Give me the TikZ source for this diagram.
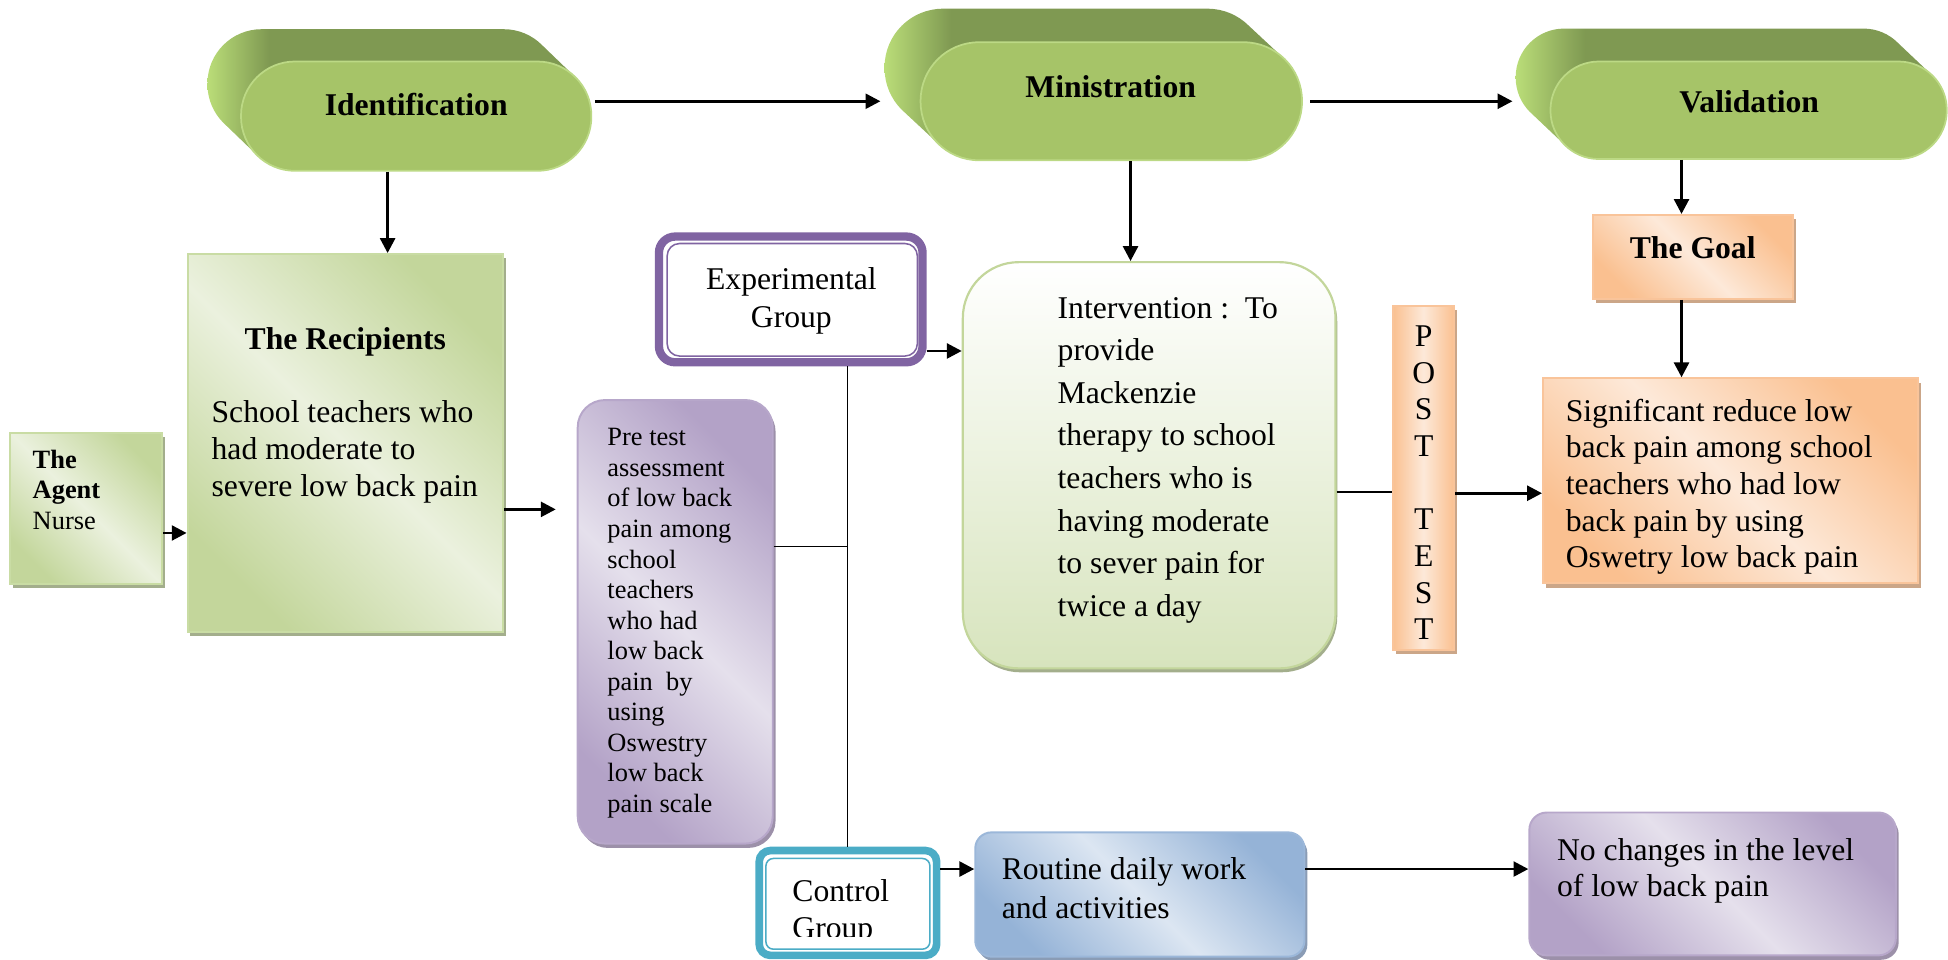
\documentclass[tikz,border=0pt]{standalone}
\usepackage{fontspec}
\setmainfont{Liberation Serif}
\usetikzlibrary{fit,arrows.meta,shadows}

\definecolor{pillL}{HTML}{BADD78}
\definecolor{pillD}{HTML}{7F9952}
\definecolor{pillF}{HTML}{A6C468}
\definecolor{pillB}{HTML}{BCD985}
\definecolor{gD}{HTML}{C3D69B}
\definecolor{gL}{HTML}{EBF1DE}
\definecolor{gB}{HTML}{C9DCA4}
\definecolor{oD}{HTML}{FAC090}
\definecolor{oL}{HTML}{FDE9D9}
\definecolor{oB}{HTML}{F9C49A}
\definecolor{pD}{HTML}{B3A2C7}
\definecolor{pL}{HTML}{E5E0EC}
\definecolor{pB}{HTML}{B7A7CA}
\definecolor{bD}{HTML}{95B3D7}
\definecolor{bL}{HTML}{DCE6F2}
\definecolor{bB}{HTML}{9BB7D9}
\definecolor{expC}{HTML}{8064A2}
\definecolor{ctlC}{HTML}{4BACC6}
\definecolor{intB}{HTML}{D7E4BD}
\definecolor{shG}{HTML}{A3AE8C}
\definecolor{shO}{HTML}{CBA688}
\definecolor{shP}{HTML}{9C90A9}
\definecolor{shB}{HTML}{8A9CB5}

\pgfdeclarehorizontalshading{pillside}{100bp}{color(0bp)=(pillL); color(25bp)=(pillL); color(33bp)=(pillD); color(100bp)=(pillD)}

\tikzset{
  fitbox/.style={inner sep=0pt},
  grad/.style n args={2}{top color=#1, bottom color=#1, middle color=#2, shading angle=-45},
  shd/.style={drop shadow={shadow xshift=1.3pt, shadow yshift=-2pt, fill=#1, opacity=1}},
  gbox/.style={fitbox, draw=gB, line width=0.9pt, grad={gD}{gL}, shd=shG},
  obox/.style={fitbox, draw=oB, line width=0.9pt, grad={oD}{oL}, shd=shO},
  pbox/.style={fitbox, draw=pB, line width=0.9pt, grad={pD}{pL}, shd=shP},
  bluebox/.style={fitbox, draw=bB, line width=0.9pt, grad={bD}{bL}, shd=shB},
  face/.style={fitbox, fill=pillF, draw=pillB, line width=0.8pt},
  txt/.style={inner sep=0pt, align=left, font={\fontsize{14.5pt}{#1}\selectfont}},
  txt/.default=17.1pt,
  ctxt/.style={inner sep=0pt, align=center, font={\fontsize{14.5pt}{#1}\selectfont}},
  ctxt/.default=17.1pt,
  stxt/.style={inner sep=0pt, align=left, font={\fontsize{12.1pt}{14pt}\selectfont}},
  ttl/.style={inner sep=0pt, font={\fontsize{14.5pt}{17pt}\selectfont\bfseries}},
  arr/.style={line width=1.3pt, -{Triangle[length=6.8pt,width=6.8pt]}},
  thinl/.style={line width=0.65pt},
}

\begin{document}
\begin{tikzpicture}[x=0.02cm, y=-0.02cm]
\useasboundingbox (0,0) rectangle (1568,772);

% ---------- 3D pills ----------
\shade[shading=pillside, rounded corners=0.87cm] foreach \i in {0,...,24}
  {({194-27*\i/24},{49.5-26*\i/24}) rectangle ({476-27*\i/24},{137.5-26*\i/24})};
\node[face, rounded corners=0.87cm, fit={(194,49.5) (476,137.5)}] (ident) {};
\node[ttl] (identT) at (335,84) {Identification};

\shade[shading=pillside, rounded corners=0.94cm] foreach \i in {0,...,24}
  {({741-29*\i/24},{34-27*\i/24}) rectangle ({1048-29*\i/24},{129-27*\i/24})};
\node[face, rounded corners=0.94cm, fit={(741,34) (1048,129)}] (minis) {};
\node[ttl] (minisT) at (894,70) {Ministration};

\shade[shading=pillside, rounded corners=0.78cm] foreach \i in {0,...,24}
  {({1248-28*\i/24},{49.5-26.5*\i/24}) rectangle ({1567-28*\i/24},{128-26.5*\i/24})};
\node[face, rounded corners=0.78cm, fit={(1248,49.5) (1567,128)}] (valid) {};
\node[ttl] (validT) at (1408,82) {Validation};

% ---------- left boxes ----------
\node[gbox, fit={(8,348.5) (130.5,470)}] (agent) {};
\node[stxt, anchor=base west] (agentT) at (26,426) {\textbf{The}\\\textbf{Agent}\\Nurse};

\node[gbox, fit={(151,204.5) (405,508.5)}] (recip) {};
\node[ttl, anchor=base] (recipT) at (278,281) {The Recipients};
\node[txt=17.1pt, anchor=base west] (recipB) at (170,400) {School teachers who\\had moderate to\\severe low back pain};

% ---------- experimental group ----------
\node[fitbox, fit={(530.4,190.4) (742.6,291.6)}, rounded corners=0.26cm, draw=expC, line width=3.8pt, fill=white] (exp) {};
\draw[expC, line width=0.7pt, rounded corners=0.2cm] (537,196) rectangle (738.4,286.6);
\node[ctxt=17.6pt, anchor=base] (expT) at (637,264) {Experimental\\Group};

% ---------- pre test ----------
\node[pbox, fit={(465,322) (622,679)}, rounded corners=0.44cm] (pre) {};
\node[stxt, anchor=base west] (preT) at (488.6,654) {Pre test\\assessment\\of low back\\pain among\\school\\teachers\\who had\\low back\\pain\ \ by\\using\\Oswestry\\low back\\pain scale};

% ---------- intervention ----------
\node[fitbox, fit={(775,211) (1075,538)}, rounded corners=0.9cm, draw=gD, line width=1pt,
      top color=white, bottom color=intB,
      drop shadow={shadow xshift=0.8pt, shadow yshift=-1.8pt, fill=shG, opacity=1}] (inter) {};
\node[txt=19.5pt, anchor=base west] (interT) at (851,496) {Intervention :\ \ To\\provide\\Mackenzie\\therapy to school\\teachers who is\\having moderate\\to sever pain for\\twice a day};

% ---------- post test ----------
\node[fitbox, fit={(1121,246) (1170.5,523)}, draw=oB, line width=0.9pt,
      left color=oD, right color=oD, middle color=oL, shd=shO] (post) {};
\node[ctxt=16.8pt, anchor=base] (postT) at (1146,515) {P\\O\\S\\T\\\mbox{}\\T\\E\\S\\T};

% ---------- goal / significant ----------
\node[obox, fit={(1282,173) (1443,240.5)}] (goal) {};
\node[ttl, anchor=base] (goalT) at (1362.5,208) {The Goal};

\node[obox, fit={(1242,304.5) (1544,469.5)}] (sig) {};
\node[txt=16.8pt, anchor=base west] (sigT) at (1260,457) {Significant reduce low\\back pain among school\\teachers who had low\\back pain by using\\Oswetry low back pain};

% ---------- control group ----------
\node[fitbox, fit={(611.1,684.6) (753.9,769)}, rounded corners=0.18cm, draw=ctlC, line width=3.5pt, fill=white] (ctl) {};
\draw[ctlC, line width=0.7pt, rounded corners=0.12cm] (616.5,691) rectangle (748.5,764);
\begin{scope}
  \clip (600,680) rectangle (760,753.5);
  \node[txt=16.8pt, anchor=base west] (ctlT) at (637.5,755.5) {Control\\Group};
\end{scope}

% ---------- routine / no changes ----------
\node[bluebox, fit={(785,670) (1050,770)}, rounded corners=0.26cm] (rout) {};
\node[txt=17.6pt, anchor=base west] (routT) at (806,739) {Routine daily work\\and activities};

\node[pbox, fit={(1231,654) (1526,769)}, rounded corners=0.28cm] (noch) {};
\node[txt=16.8pt, anchor=base west] (nochT) at (1253,722) {No changes in the level\\of low back pain};

% ---------- connectors ----------
\coordinate (xa) at (312,0);
\coordinate (xb) at (910,0);
\coordinate (xc) at (1353.5,0);
\coordinate (xd) at (682,0);
\coordinate (ya) at (0,429);
\coordinate (yb) at (0,410);
\coordinate (yc) at (0,282.5);
\coordinate (jn) at (682,440);
\coordinate (yf) at (0,396);
\coordinate (yg) at (0,397);
\coordinate (yh) at (0,699.5);

\draw[arr, shorten <=1.2pt, shorten >=18pt] (ident.east |- minis.west) -- (minis.west);
\draw[arr, shorten <=3.4pt, shorten >=17pt] (minis.east) -- (valid.west |- minis.east);
\draw[arr] (ident.south -| xa) -- (recip.north -| xa);
\draw[arr] (minis.south -| xb) -- (inter.north -| xb);
\draw[arr] (valid.south -| xc) -- (goal.north -| xc);
\draw[arr] (goal.south -| xc) -- (sig.north -| xc);
\draw[arr] (agent.east |- ya) -- (recip.west |- ya);
\draw[arr, shorten >=9.6pt] (recip.east |- yb) -- (pre.west |- yb);
\draw[arr] (exp.east |- yc) -- (inter.west |- yc);
\draw[thinl] (exp.south -| xd) -- (ctl.north -| xd);
\draw[thinl] (pre.east |- jn) -- (jn);
\draw[thinl] (inter.east |- yf) -- (post.west |- yf);
\draw[arr] (post.east |- yg) -- (sig.west |- yg);
\draw[arr] (ctl.east |- yh) -- (rout.west |- yh);
\draw[arr] (rout.east |- yh) -- (noch.west |- yh);
\end{tikzpicture}
\end{document}
